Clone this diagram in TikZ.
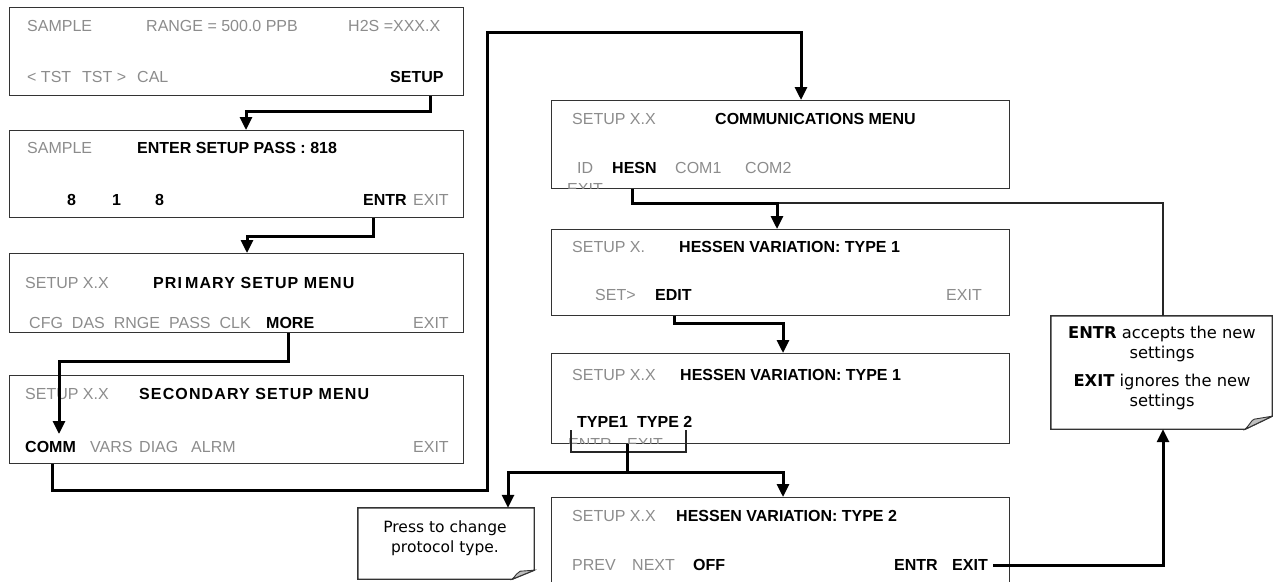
\documentclass[tikz,border=0pt]{standalone}
\usepackage{fontspec}
\setmainfont{Liberation Sans}
\newfontfamily\verd{DejaVu Sans}
\usetikzlibrary{arrows.meta,calc}
\newcommand{\fs}{\fontsize{16}{19}\selectfont}
\newcommand{\nfs}{\verd\fontsize{15.5}{20}\selectfont}
\newcommand{\nfsb}{\verd\fontsize{16.3}{20}\selectfont}
\begin{document}
\begin{tikzpicture}[x=1pt,y=-1pt,
  box/.style={draw=black!80, line width=1.4pt, anchor=north west, inner sep=0pt},
  g/.style={text=black!45, anchor=base west, inner sep=0pt, font=\fs},
  bd/.style={text=black, anchor=base west, inner sep=0pt, font=\fs\bfseries},
  bdw/.style={text=black, anchor=base west, inner sep=0pt, font=\fs\bfseries\addfontfeature{LetterSpace=7}},
  conn/.style={line width=3pt, line join=miter, -{Triangle[length=13pt,width=12pt]}},
  link/.style={line width=3pt},
  thinl/.style={line width=1.3pt, draw=black!85},
  notebox/.style={inner sep=0pt},
  noteline/.style={draw=black!80, line width=1.4pt, fill=white},
  foldst/.style={fill=black!25, draw=black!80, line width=0.9pt},
  notetxt/.style={inner sep=0pt, align=center, font=\nfs}
]
\useasboundingbox (0,0) rectangle (1273,581);

% ---------- boxes ----------
\node[box, minimum width=454pt, minimum height=88pt] (b1) at (9,7) {};
\node[box, minimum width=454pt, minimum height=87pt] (b2) at (9,130) {};
\node[box, minimum width=454pt, minimum height=79pt] (b3) at (9,253) {};
\node[box, minimum width=454pt, minimum height=88pt] (b4) at (9,375) {};
\node[box, minimum width=458pt, minimum height=88pt] (b5) at (551,100) {};
\node[box, minimum width=458pt, minimum height=86pt] (b6) at (551,229) {};
\node[box, minimum width=458pt, minimum height=90pt] (b7) at (551,353) {};
\node[box, minimum width=458pt, minimum height=95pt] (b8) at (551,497) {};

% ---------- box 1 ----------
\node[g] (t11) at (27,31) {SAMPLE};
\node[g] (t12) at (146,31) {RANGE = 500.0 PPB};
\node[g] (t13) at (348,31) {H2S =XXX.X};
\node[g] (t14) at (27,82) {< TST\hspace{11pt}TST >\hspace{11pt}CAL};
\node[bd] (setupw) at (390,82) {SETUP};

% ---------- box 2 ----------
\node[g] (t21) at (27,153) {SAMPLE};
\node[bd] (t22) at (137,153) {ENTER SETUP PASS : 818};
\node[bd] (t23) at (67,205) {8};
\node[bd] (t24) at (112,205) {1};
\node[bd] (t25) at (155,205) {8};
\node[bd] (entrw) at (363,205) {ENTR};
\node[g] (t26) at (413,205) {EXIT};

% ---------- box 3 ----------
\node[g] (t31) at (25,288) {SETUP X.X};
\node[bdw] (t32) at (153,288) {PRI\hspace{3pt}MARY SETUP MENU};
\node[g] (t33) at (29,328) {CFG\hspace{9pt}DAS\hspace{9pt}RNGE\hspace{9pt}PASS\hspace{9pt}CLK};
\node[bd] (morew) at (266,328) {MORE};
\node[g] (t38) at (413,328) {EXIT};

% ---------- box 4 ----------
\node[g] (t41) at (25,399) {SETUP X.X};
\node[bdw] (t42) at (139,399) {SECONDARY SETUP MENU};
\node[bd] (commw) at (25,452) {COMM};
\node[g] (t43) at (90,452) {VARS};
\node[g] (t44) at (139,452) {DIAG};
\node[g] (t45) at (191,452) {ALRM};
\node[g] (t46) at (413,452) {EXIT};

% ---------- box 5 (communications) ----------
\node[g] (t51) at (572,124) {SETUP X.X};
\node[bd] (t52) at (715,124) {COMMUNICATIONS MENU};
\node[g] (t53) at (577,173) {ID};
\node[bd] (hesnw) at (612,173) {HESN};
\node[g] (t54) at (675,173) {COM1};
\node[g] (t55) at (745,173) {COM2};
\begin{scope}
  \clip (551,100) rectangle (1009,188);
  \node[g] (t56) at (567,194) {EXIT};
\end{scope}

% ---------- box 6 ----------
\node[g] (t61) at (572,252) {SETUP X.};
\node[bd] (t62) at (679,252) {HESSEN VARIATION: TYPE 1};
\node[g] (t63) at (595,300) {SET>};
\node[bd] (editw) at (655,300) {EDIT};
\node[g] (t64) at (946,300) {EXIT};

% ---------- box 7 ----------
\node[g] (t71) at (572,380) {SETUP X.X};
\node[bd] (t72) at (680,380) {HESSEN VARIATION: TYPE 1};
\begin{scope}
  \clip (551,353) rectangle (1009,443);
  \node[g] (t75) at (568,449) {ENTR};
  \node[g] (t76) at (627,449) {EXIT};
\end{scope}
\node[bd] (t73) at (577,427) {TYPE1};
\node[bd] (t74) at (637,427) {TYPE 2};

% ---------- box 8 ----------
\node[g] (t81) at (572,521) {SETUP X.X};
\node[bd] (t82) at (676,521) {HESSEN VARIATION: TYPE 2};
\node[g] (t83) at (572,570) {PREV};
\node[g] (t84) at (632,570) {NEXT};
\node[bd] (t85) at (693,570) {OFF};
\node[bd] (t86) at (894,570) {ENTR};
\node[bd] (exitw) at (952,570) {EXIT};

% ---------- notes ----------
\node[notebox, minimum width=176pt, minimum height=71pt] (n1) at (446,543.5) {};
\draw[noteline] (n1.north west) -- (n1.north east) -- ($(n1.south east)+(0,-9)$)
  -- ($(n1.south east)+(-22,0)$) -- (n1.south west) -- cycle;
\filldraw[foldst] ($(n1.south east)+(-22,0)$) .. controls ($(n1.south east)+(-18,-4)$) and ($(n1.south east)+(-17,-7)$) .. ($(n1.south east)+(-14,-8)$) -- ($(n1.south east)+(0,-9)$) -- cycle;
\node[notetxt] (n1t) at (445,538.5) {Press to change\\protocol type.};

\node[notebox, minimum width=221pt, minimum height=113pt] (n2) at (1161.5,372.5) {};
\draw[noteline] (n2.north west) -- (n2.north east) -- ($(n2.south east)+(0,-13)$)
  -- ($(n2.south east)+(-27,0)$) -- (n2.south west) -- cycle;
\filldraw[foldst] ($(n2.south east)+(-27,0)$) .. controls ($(n2.south east)+(-22,-5)$) and ($(n2.south east)+(-21,-9)$) .. ($(n2.south east)+(-18,-10)$) -- ($(n2.south east)+(0,-13)$) -- cycle;
\node[notetxt, font=\nfsb] (n2t) at (1162,368) {\textbf{ENTR} accepts the new\\settings\\[8pt]\textbf{EXIT} ignores the new\\settings};

% ---------- connectors ----------
% SETUP -> box 2
\coordinate (c1a) at (430,111);
\coordinate (c1b) at (246,111);
\draw[conn] (c1a |- b1.south) -- (c1a) -- (c1b) -- (c1b |- b2.north);
% ENTR -> box 3
\coordinate (c2a) at (373,236);
\coordinate (c2b) at (247,236);
\draw[conn] (c2a |- b2.south) -- (c2a) -- (c2b) -- (c2b |- b3.north);
% MORE -> COMM
\coordinate (c3a) at (288,361);
\coordinate (c3b) at (59,361);
\coordinate (c3c) at (59,434);
\draw[conn] (c3a |- b3.south) -- (c3a) -- (c3b) -- (c3c);
% COMM -> communications menu
\coordinate (c4a) at (52,490);
\coordinate (c4b) at (487,490);
\coordinate (c4c) at (487,32);
\coordinate (c4d) at (801,32);
\draw[conn] (c4a |- b4.south) -- (c4a) -- (c4b) -- (c4c) -- (c4d) -- (c4d |- b5.north);
% HESN -> box 6
\coordinate (c5a) at (632,203);
\coordinate (c5b) at (777,203);
\coordinate (c5c) at (1163,203);
\draw[thinl] (c5b) -- (c5c) -- (c5c |- n2.north);
\draw[conn] (c5a |- b5.south) -- (c5a) -- (c5b) -- (c5b |- b6.north);
% EDIT -> box 7
\coordinate (c6a) at (674,323);
\coordinate (c6b) at (783,323);
\draw[conn] (c6a |- b6.south) -- (c6a) -- (c6b) -- (c6b |- b7.north);
% TYPE bracket -> note 1 and box 8
\coordinate (br1) at (571,430);
\coordinate (br2) at (686,430);
\coordinate (br3) at (571,452);
\coordinate (br4) at (686,452);
\draw[thinl] (br1) -- (br3) -- (br4) -- (br2);
\coordinate (c7a) at (627,472);
\coordinate (c7l) at (508,472);
\coordinate (c7r) at (783,472);
\draw[link] (c7a |- b7.south) -- (c7a);
\draw[conn] (c7a) -- (c7l) -- (c7l |- n1.north);
\draw[conn] (c7a) -- (c7r) -- (c7r |- b8.north);
% EXIT -> note 2
\coordinate (c8a) at (993,565);
\coordinate (c8b) at (1163,565);
\draw[conn] (c8a) -- (c8b) -- (c8b |- n2.south);
\end{tikzpicture}
\end{document}
